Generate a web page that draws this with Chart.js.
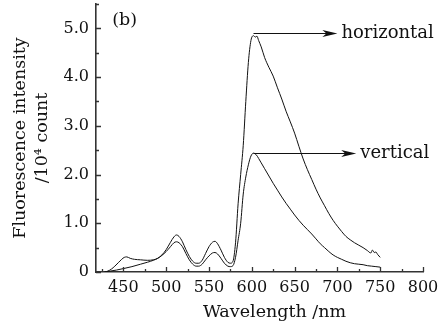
<!DOCTYPE html>
<html><head><meta charset="utf-8">
<script src="https://cdn.jsdelivr.net/npm/chart.js@4/dist/chart.umd.min.js"></script>
<style>html,body{margin:0;padding:0;background:#fff}</style>
</head><body>
<canvas id="c" width="445" height="326"></canvas>
<script>
// ---- data ----
const hWavelength = [428,432,436,440,444,448,451,454,458,463,470,478,485,490,495,500,505,509,512,515,519,523,527,531,535,538,542,546,550,554,557,560,564,568,572,575,578,581,584,587,590,593,596,599,602,604,606,608,611,615,620,625,630,635,640,645,650,655,660,665,670,675,680,685,690,695,700,705,710,715,720,725,730,735,739,741,743,745,747,750];
const hIntensity  = [0.0,0.02,0.06,0.12,0.19,0.26,0.30,0.31,0.28,0.26,0.25,0.24,0.25,0.28,0.35,0.46,0.61,0.72,0.76,0.73,0.62,0.46,0.32,0.22,0.18,0.18,0.24,0.38,0.52,0.61,0.63,0.58,0.45,0.30,0.20,0.18,0.22,0.6,1.4,2.0,2.6,3.5,4.3,4.75,4.85,4.82,4.84,4.75,4.62,4.40,4.20,4.02,3.78,3.55,3.30,3.08,2.85,2.58,2.32,2.10,1.90,1.70,1.52,1.36,1.20,1.06,0.94,0.83,0.73,0.66,0.60,0.55,0.50,0.44,0.39,0.45,0.40,0.41,0.36,0.30];
const vWavelength = [428,435,442,450,460,470,478,485,490,495,500,505,509,512,515,519,523,527,531,535,538,542,546,550,554,557,560,564,568,572,575,578,581,584,587,590,593,596,599,602,605,608,611,615,620,625,630,635,640,645,650,655,660,665,670,675,680,685,690,695,700,705,710,715,720,725,730,735,740,745,750];
const vIntensity  = [0.0,0.02,0.04,0.07,0.11,0.16,0.20,0.24,0.28,0.34,0.42,0.52,0.60,0.62,0.60,0.52,0.38,0.25,0.16,0.12,0.12,0.16,0.25,0.33,0.39,0.40,0.37,0.28,0.18,0.12,0.11,0.13,0.30,0.65,1.0,1.6,1.95,2.2,2.38,2.44,2.41,2.33,2.24,2.12,1.97,1.82,1.68,1.54,1.41,1.29,1.17,1.06,0.96,0.87,0.78,0.68,0.58,0.50,0.42,0.35,0.30,0.26,0.22,0.19,0.17,0.16,0.15,0.13,0.12,0.11,0.10];
const xTickValues = [450,500,550,600,650,700,750,800];
const xTickLabels = ['450','500','550','600','650','700','750','800'];
const yTickValues = [0,1,2,3,4,5];
const yTickLabels = ['0','1.0','2.0','3.0','4.0','5.0'];
const xMinorStep = 25;
const yMinorStep = 0.5;
const seriesNames = ['horizontal','vertical'];
const xTitle = 'Wavelength /nm';
const yTitle = ['Fluorescence intensity','/10\u2074 count'];
const panelLabel = '(b)';

// annotation placement (data coordinates)
const arrowFrom = [602, 602];
const arrowTip  = [700, 722];
const arrowY    = [4.9, 2.45];
const panelLabelAt = {x: 437, y: 5.17};

const SERIF = '"DejaVu Serif", "Liberation Serif", serif';
const INK = '#111';

const annot = {
  id: 'annot',
  afterDraw(chart) {
    const ctx = chart.ctx, xs = chart.scales.x, ys = chart.scales.y;
    const area = chart.chartArea;
    ctx.save();
    // inward tick marks
    ctx.strokeStyle = '#333'; ctx.lineWidth = 1.3;
    ctx.beginPath();
    for (let v = Math.ceil(xs.min / xMinorStep) * xMinorStep; v <= xs.max + 1e-6; v += xMinorStep) {
      const px = Math.round(xs.getPixelForValue(v)) + 0.5;
      const len = (v % 50 === 0) ? 5 : 3;
      ctx.moveTo(px, area.bottom); ctx.lineTo(px, area.bottom - len);
    }
    for (let v = 0; v <= ys.max + 1e-6; v += yMinorStep) {
      const py = Math.round(ys.getPixelForValue(v)) + 0.5;
      const len = (Math.abs(v - Math.round(v)) < 1e-6) ? 5 : 3;
      ctx.moveTo(area.left, py); ctx.lineTo(area.left + len, py);
    }
    ctx.stroke();

    // arrows + labels
    ctx.fillStyle = INK; ctx.strokeStyle = INK; ctx.lineWidth = 1.2;
    ctx.font = '18px ' + SERIF;
    ctx.textBaseline = 'middle'; ctx.textAlign = 'left';
    for (let i = 0; i < seriesNames.length; i++) {
      const x0 = xs.getPixelForValue(arrowFrom[i]);
      const x1 = xs.getPixelForValue(arrowTip[i]);
      const y = Math.round(ys.getPixelForValue(arrowY[i])) + 0.5;
      ctx.beginPath(); ctx.moveTo(x0, y); ctx.lineTo(x1 - 8, y); ctx.stroke();
      ctx.beginPath();
      ctx.moveTo(x1, y); ctx.lineTo(x1 - 15, y - 3.5); ctx.lineTo(x1 - 11, y); ctx.lineTo(x1 - 15, y + 3.5);
      ctx.closePath(); ctx.fill();
      ctx.fillText(seriesNames[i], x1 + 4, y);
    }
    // panel label
    ctx.font = '17.5px ' + SERIF;
    ctx.fillText(panelLabel, xs.getPixelForValue(panelLabelAt.x), ys.getPixelForValue(panelLabelAt.y));
    // x title
    ctx.textAlign = 'center';
    ctx.fillText(xTitle, (area.left + area.right) / 2 + 15, 312);
    ctx.restore();
  }
};

const mk = (xsArr, ysArr) => xsArr.map((x, i) => ({x: x, y: ysArr[i]}));

new Chart(document.getElementById('c'), {
  type: 'line',
  data: {
    datasets: [
      {label: seriesNames[0], data: mk(hWavelength, hIntensity), borderColor: INK, borderWidth: 1, pointRadius: 0, cubicInterpolationMode: 'monotone', fill: false},
      {label: seriesNames[1], data: mk(vWavelength, vIntensity), borderColor: INK, borderWidth: 1, pointRadius: 0, cubicInterpolationMode: 'monotone', fill: false}
    ]
  },
  options: {
    responsive: false,
    devicePixelRatio: 1,
    animation: false,
    layout: {padding: {top: 4, right: 22, left: 0, bottom: 0}},
    plugins: {legend: {display: false}, tooltip: {enabled: false}},
    scales: {
      x: {
        type: 'linear', min: 418, max: 800,
        afterBuildTicks: s => { s.ticks = xTickValues.map(v => ({value: v})); },
        afterFit: s => { s.height = 54; s.paddingLeft = 0; s.paddingRight = 0; },
        ticks: {
          callback: (v) => { const i = xTickValues.indexOf(v); return i >= 0 ? xTickLabels[i] : ''; },
          font: {family: SERIF, size: 16}, color: INK, padding: 6, maxRotation: 0, autoSkip: false
        },
        grid: {display: false, drawTicks: false},
        border: {display: true, color: '#333', width: 1.6}
      },
      y: {
        type: 'linear', min: 0, max: 5.5,
        afterBuildTicks: s => { s.ticks = yTickValues.map(v => ({value: v})); },
        afterFit: s => { s.width = 96; s.paddingTop = 0; s.paddingBottom = 0; },
        ticks: {
          callback: (v) => { const i = yTickValues.indexOf(v); return i >= 0 ? yTickLabels[i] : ''; },
          font: {family: SERIF, size: 16}, color: INK, padding: 7, autoSkip: false
        },
        grid: {display: false, drawTicks: false},
        border: {display: true, color: '#333', width: 1.6},
        title: {
          display: true, text: yTitle, color: INK,
          font: {family: SERIF, size: 17.5, lineHeight: 1.25},
          padding: {top: 10, bottom: 0}
        }
      }
    }
  },
  plugins: [annot]
});
</script>
</body></html>
